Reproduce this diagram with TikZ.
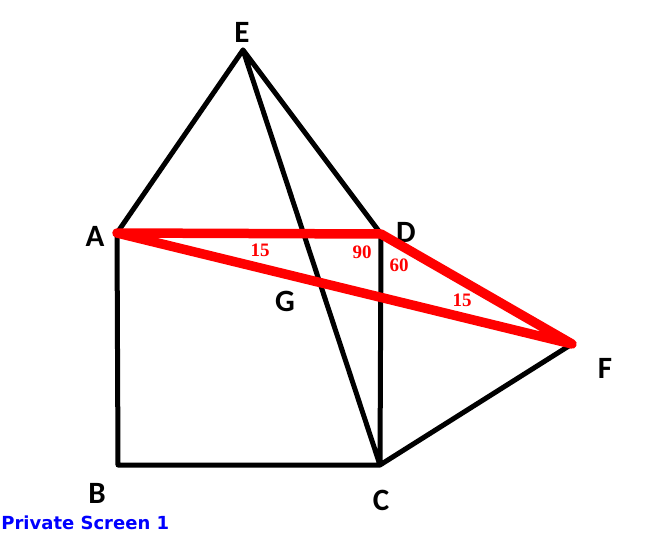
\documentclass[tikz,border=0pt]{standalone}
\usepackage{fontspec}
\setmainfont{Liberation Serif}
\newfontfamily\ptfont{Carlito}
\newfontfamily\capfont{DejaVu Sans}
\usetikzlibrary{calc}

\begin{document}
\begin{tikzpicture}[x=1pt,y=-1pt,thick]
    % `pt' is used for the point letters A..G.
    % `ang' is used for the red angle values.
    % `side' and `redside' are the black and red segments.
    \tikzstyle{pt} = [font=\ptfont\bfseries\fontsize{31}{31}\selectfont,inner sep=0pt]
    \tikzstyle{ang} = [font=\bfseries\fontsize{19}{19}\selectfont,text=red,inner sep=0pt]
    \tikzstyle{side} = [line width=5pt,draw=black,line cap=round,line join=round]
    \tikzstyle{redside} = [line width=9.5pt,draw=red,line cap=round,line join=round]
    \useasboundingbox (0,0) rectangle (651,551);
    %
    \coordinate (A) at (117,233);
    \coordinate (B) at (118,465);
    \coordinate (C) at (380,465);
    \coordinate (D) at (381,234);
    \coordinate (E) at (243,50);
    \coordinate (F) at (572,344);
    %
    \node[pt] (lA) at (95,236) {A};
    \node[pt] (lB) at (97,493) {B};
    \node[pt] (lC) at (381,500) {C};
    \node[pt] (lD) at (406,232) {D};
    \node[pt] (lE) at (242,32) {E};
    \node[pt] (lF) at (605,368) {F};
    \node[pt] (lG) at (285,301) {G};
    %
    % Draw black lines.
    \draw[side] (A) -- (E) -- (D) (E) -- (C) (A) -- (B) -- (C) -- (D) (C) -- (F);
    % Draw red triangle.
    \draw[redside] (A) -- (D) -- (F) -- cycle;
    %
    \node[ang] (a1) at (260,250) {15};
    \node[ang] (a2) at (362,252) {90};
    \node[ang] (a3) at (399,265) {60};
    \node[ang] (a4) at (462,300) {15};
    \node[anchor=west,inner sep=0pt,text=blue,font=\capfont\bfseries\fontsize{18}{18}\selectfont] (cap) at (1,523) {Private Screen 1};
\end{tikzpicture}
\end{document}
